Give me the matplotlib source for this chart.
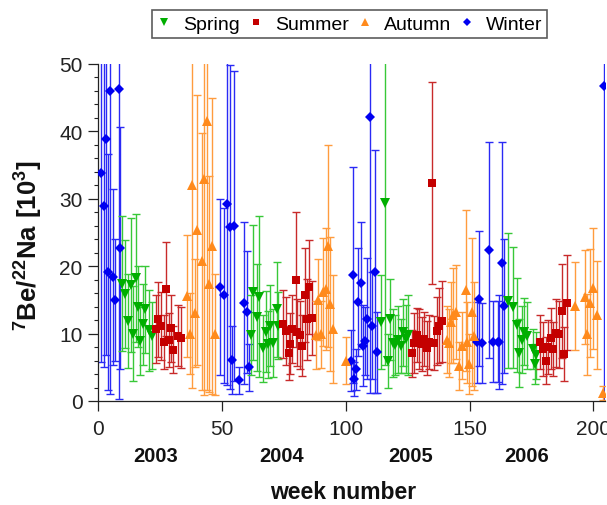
import matplotlib
matplotlib.use("Agg")
import matplotlib.pyplot as plt
from matplotlib.lines import Line2D
from matplotlib import transforms

plt.rcParams['font.family'] = ['Liberation Sans', 'DejaVu Sans']
plt.rcParams['mathtext.fontset'] = 'custom'
plt.rcParams['mathtext.rm'] = 'Liberation Sans'
plt.rcParams['mathtext.bf'] = 'Liberation Sans:bold'

# ---------------- data (week number, ratio [10^3], error) ----------------
winter_week = [1.1, 2.2, 3.0, 4.0, 4.7, 5.8, 6.9, 8.4, 8.8,
               49.2, 50.9, 51.9, 53.2, 54.0, 54.8, 57.0, 58.9, 60.0, 60.9,
               102.0, 102.8, 103.3, 104.1, 104.9, 106.0, 106.8, 107.9, 108.7, 109.9, 110.7, 111.9, 112.5,
               152.9, 153.9, 154.9, 158.0, 159.6, 161.4, 162.0, 163.0, 163.9,
               204.4]
winter_val = [33.8, 29.0, 38.8, 19.2, 46.0, 18.4, 15.0, 46.3, 22.7,
              16.9, 15.7, 29.3, 25.8, 6.1, 26.0, 3.1, 14.5, 13.2, 5.0,
              6.0, 18.7, 3.3, 4.7, 14.7, 17.5, 8.2, 8.9, 12.2, 42.2, 11.2, 19.2, 7.2,
              8.7, 15.2, 8.6, 22.4, 8.8, 8.8, 8.8, 20.5, 14.1,
              46.8]
winter_err = [28, 24, 32, 17.5, 45, 13, 9, 46, 18,
              13, 13, 27, 24, 5, 23, 2, 12, 9, 3.5,
              4.5, 16, 2.5, 3, 8, 9, 6, 5, 9, 41, 8, 18, 6,
              6, 10, 6, 16, 6, 6, 7, 18, 10,
              47]

spring_week = [9.7, 10.7, 11.9, 13.1, 14.1, 15.1, 16.2, 16.8, 17.9, 18.9, 20.4, 21.6,
               61.7, 62.6, 64.0, 64.9, 66.7, 67.8, 68.7, 69.4, 70.5, 72.1, 72.7,
               114.1, 115.8, 117.2, 117.9, 118.9, 119.9, 121.2, 122.3, 123.2, 124.3, 125.3,
               165.7, 167.7, 169.0, 170.1, 171.1, 172.0, 173.1, 175.8, 176.4, 176.8]
spring_val = [17.4, 15.9, 11.9, 17.2, 10.0, 18.2, 14.0, 8.9, 11.4, 13.6, 10.5, 9.7,
              9.8, 16.1, 12.4, 15.5, 7.8, 10.3, 8.4, 11.2, 8.6, 13.6, 11.2,
              11.7, 29.4, 6.0, 12.1, 8.6, 8.3, 9.1, 8.2, 10.2, 9.2, 9.8,
              14.9, 13.9, 11.3, 7.1, 9.1, 10.3, 9.7, 7.7, 5.5, 6.8]
spring_err = [10, 8, 7, 10, 7, 9.5, 6, 5, 6, 6.5, 6, 5,
              6, 10, 8, 12, 5, 6, 5, 6, 5, 7, 5,
              7, 24, 4, 6, 5, 4.5, 5, 4, 5, 5, 6,
              10, 9, 7, 5, 5, 5, 5, 3, 3, 3.5]

summer_week = [23.2, 24.2, 25.3, 26.5, 27.5, 28.4, 29.4, 30.3, 32.1, 33.4,
               74.7, 75.8, 76.9, 77.5, 78.4, 79.8, 80.4, 81.5, 82.3, 83.5, 84.2, 85.3, 86.3,
               126.6, 127.6, 128.6, 129.7, 130.7, 131.7, 132.7, 133.7, 134.8, 135.6, 136.7, 137.8, 138.9,
               178.5, 179.6, 180.9, 181.7, 182.8, 183.8, 184.9, 186.0, 187.2, 188.3, 189.3]
summer_val = [10.7, 12.1, 11.1, 8.7, 16.6, 9.0, 10.8, 7.6, 9.7, 9.4,
              11.4, 10.4, 7.1, 8.5, 10.7, 18.0, 10.2, 9.8, 8.2, 15.7, 12.1, 16.9, 12.3,
              7.1, 8.6, 9.8, 9.2, 8.5, 9.2, 7.8, 8.7, 32.3, 8.6, 10.4, 11.2, 11.8,
              8.7, 7.7, 6.0, 8.0, 9.3, 7.7, 10.1, 9.9, 13.4, 7.0, 14.6]
summer_err = [5, 5.5, 5, 4, 7, 4, 5, 3.5, 4.5, 4.5,
              5, 5, 4, 4.5, 5, 10, 5, 5, 4.5, 7, 6, 7, 5.5,
              3.5, 4.5, 4, 4.5, 4, 4, 4, 4, 15, 4, 5, 5.5, 6,
              4, 4, 3.5, 4, 4.5, 4, 5, 5, 7, 4, 7]

autumn_week = [36.0, 37.1, 37.9, 38.9, 39.8, 41.9, 42.7, 43.8, 44.8, 45.9, 47.3,
               88.0, 88.9, 90.0, 90.9, 92.0, 92.7, 93.6, 95.0, 100.1,
               140.8, 141.6, 142.4, 143.4, 144.5, 145.7, 146.8, 148.6, 149.1, 149.9, 150.9, 151.8,
               192.6, 196.6, 197.6, 198.7, 199.8, 201.6, 203.8]
autumn_val = [15.6, 10.0, 32.0, 13.0, 25.4, 20.7, 32.9, 41.6, 17.4, 23.0, 9.9,
              9.8, 15.0, 9.9, 16.2, 16.6, 23.0, 14.4, 10.7, 6.0,
              9.1, 8.6, 11.7, 12.7, 13.2, 5.2, 8.2, 16.4, 8.7, 5.5, 13.2, 9.7,
              14.1, 15.4, 9.9, 14.6, 16.7, 12.8, 1.2]
autumn_err = [9, 6, 30, 8, 20, 19, 32, 40, 16, 22, 9,
              5, 6, 5, 8, 9, 15, 10, 8, 3.5,
              5, 5, 6, 7, 7, 3.5, 5, 12, 6, 4.5, 11, 8,
              6.5, 7, 6, 8, 9, 8, 1]

series_names = ['Spring', 'Summer', 'Autumn', 'Winter']
year_labels = ['2003', '2004', '2005', '2006']
year_label_weeks = [23.3, 74.2, 126.3, 173.2]
x_ticks = [0, 50, 100, 150, 200]
y_ticks = [0, 10, 20, 30, 40, 50]

# ---------------- styles ----------------
styles = {
    'Spring': dict(marker='v', mcol='#00ae00', ecol='#38c838', ms=6.5),
    'Summer': dict(marker='s', mcol='#c40000', ecol='#c82a2a', ms=5.5),
    'Autumn': dict(marker='^', mcol='#ff8a1c', ecol='#ff9c3e', ms=6.5),
    'Winter': dict(marker='D', mcol='#0000f0', ecol='#2a2af5', ms=4.8),
}
data = {
    'Spring': (spring_week, spring_val, spring_err),
    'Summer': (summer_week, summer_val, summer_err),
    'Autumn': (autumn_week, autumn_val, autumn_err),
    'Winter': (winter_week, winter_val, winter_err),
}

fig = plt.figure(figsize=(6.07, 5.06), dpi=100)
ax = fig.add_axes([98.3 / 607, 104 / 506, (605 - 98.3) / 607, (402 - 65) / 506])

for name in ['Winter', 'Spring', 'Summer', 'Autumn']:
    w, v, e = data[name]
    st = styles[name]
    ax.errorbar(w, v, yerr=e, fmt='none', ecolor=st['ecol'], elinewidth=1.0,
                capsize=3.2, capthick=1.0, zorder=2)
    ax.plot(w, v, linestyle='none', marker=st['marker'], color=st['mcol'],
            markersize=st['ms'], markeredgewidth=0, zorder=3)

ax.set_xlim(0, 204.7)
ax.set_ylim(0, 50)
ax.set_xticks(x_ticks)
ax.set_yticks(y_ticks)
ax.set_yticks(range(0, 51, 2), minor=True)
ax.tick_params(axis='both', which='major', direction='out', length=7.2, width=0.9,
               labelsize=15, colors='#222222')
ax.tick_params(axis='x', pad=6)
ax.tick_params(axis='y', which='minor', direction='out', length=3.2, width=0.8, color='#222222')
ax.tick_params(axis='y', pad=4)
for s in ['top', 'right']:
    ax.spines[s].set_visible(False)
for s in ['left', 'bottom']:
    ax.spines[s].set_linewidth(0.9)
    ax.spines[s].set_color('#222222')

# year labels
trans = transforms.blended_transform_factory(ax.transData, fig.transFigure)
for lab, wk in zip(year_labels, year_label_weeks):
    ax.text(wk, 1 - 457 / 506, lab, transform=trans, ha='center', va='center',
            fontsize=14.5, fontweight='bold', color='#111111')

fig.text(343 / 607, 1 - 493 / 506, 'week number', ha='center', va='center',
         fontsize=16.5, fontweight='bold', color='#111111')
fig.text(29 / 607, 1 - 246 / 506, r'$\mathbf{^{7}Be/^{22}Na\ [10^{3}]}$',
         rotation=90, ha='center', va='center', fontsize=18.5, color='#111111')

handles = [Line2D([], [], linestyle='none', marker=styles[n]['marker'],
                  color=styles[n]['mcol'], markersize=styles[n]['ms'] * 0.8,
                  markeredgewidth=0) for n in series_names]
leg = fig.legend(handles, series_names, loc='center', ncol=4,
                 bbox_to_anchor=(349.5 / 607, 1 - 25 / 506), fontsize=14,
                 frameon=True, fancybox=False, edgecolor='#333333',
                 handlelength=0.8, handletextpad=0.55, columnspacing=0.45,
                 borderpad=0.25, borderaxespad=0)
leg.get_frame().set_linewidth(1.2)

fig.savefig('out.png', dpi=100)
